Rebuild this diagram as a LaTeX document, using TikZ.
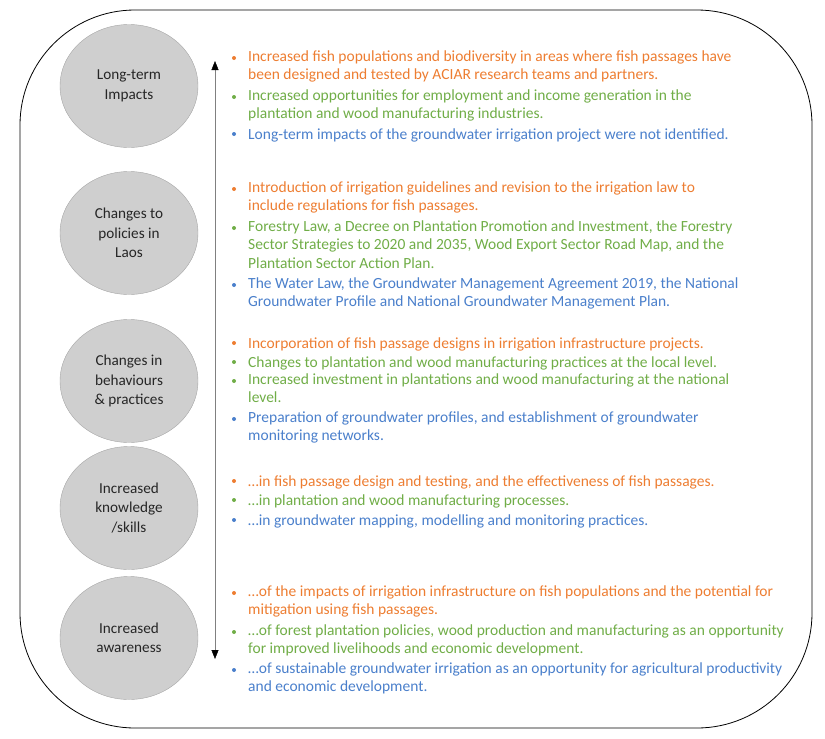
\documentclass[tikz,border=0pt]{standalone}
\usepackage{fontspec}
\setmainfont{Carlito}
\usetikzlibrary{arrows.meta,shapes.geometric}
\definecolor{outorange}{HTML}{ED7D31}
\definecolor{outgreen}{HTML}{70AD47}
\definecolor{outblue}{HTML}{4A7FCB}
\definecolor{stagegray}{HTML}{CFCFCF}
\newcommand{\itemfont}{\fontsize{15.5}{18.5}\selectfont}
\newcommand{\stagefont}{\fontsize{15.2}{19.5}\selectfont}
\newcommand{\bul}[2]{\fill[#1] ([xshift=-14pt,yshift=-7.95pt]#2.north west) circle (2pt);}

\begin{document}
\begin{tikzpicture}[x=1pt, y=-1pt,
  stage/.style={ellipse, draw=black!35, fill=stagegray, minimum width=138pt,
                minimum height=123pt, inner sep=0pt, align=center,
                font=\stagefont, text=black!85},
  outcome/.style={anchor=north west, yshift=10.95pt, align=left, inner sep=0pt,
                  font=\itemfont, execute at begin node=\strut}]
  %% frame
  \useasboundingbox (0,0) rectangle (825,739);
  \draw[thick, rounded corners=115pt] (20,10) rectangle (812,728);

  %% stages
  \node[stage] (impacts)   at (129,86)  {Long-term\\Impacts};
  \node[stage] (policies)  at (129,233) {Changes to\\policies in\\Laos};
  \node[stage] (practices) at (129,381) {Changes in\\behaviours\\\& practices};
  \node[stage] (knowledge) at (129,508) {Increased\\knowledge\\/skills};
  \node[stage] (awareness) at (129,638) {Increased\\awareness};

  %% progression arrow
  \coordinate (arrtop) at (215,61);
  \coordinate (arrbot) at (215,659);
  \draw[gray, {Triangle[length=9pt,width=7pt,black]}-{Triangle[length=9pt,width=7pt,black]}]
    (arrtop) -- (arrbot);

  %% long-term impacts
  \node[outcome, outorange] (imp1) at (248,61)
    {Increased fish populations and biodiversity in areas where fish passages have\\
     been designed and tested by ACIAR research teams and partners.};
  \node[outcome, outgreen] (imp2) at (248,100)
    {Increased opportunities for employment and income generation in the\\
     plantation and wood manufacturing industries.};
  \node[outcome, outblue] (imp3) at (248,137)
    {Long-term impacts of the groundwater irrigation project were not identified.};

  %% policies
  \node[outcome, outorange] (pol1) at (248,192)
    {Introduction of irrigation guidelines and revision to the irrigation law to\\
     include regulations for fish passages.};
  \node[outcome, outgreen] (pol2) at (248,231)
    {Forestry Law, a Decree on Plantation Promotion and Investment, the Forestry\\
     Sector Strategies to 2020 and 2035, Wood Export Sector Road Map, and the\\
     Plantation Sector Action Plan.};
  \node[outcome, outblue] (pol3) at (248,288)
    {The Water Law, the Groundwater Management Agreement 2019, the National\\
     Groundwater Profile and National Groundwater Management Plan.};

  %% behaviours and practices
  \node[outcome, outorange] (pra1) at (248,346)
    {Incorporation of fish passage designs in irrigation infrastructure projects.};
  \node[outcome, outgreen] (pra2) at (248,365)
    {Changes to plantation and wood manufacturing practices at the local level.};
  \node[outcome, outgreen] (pra3) at (248,384)
    {Increased investment in plantations and wood manufacturing at the national\\
     level.};
  \node[outcome, outblue] (pra4) at (248,422)
    {Preparation of groundwater profiles, and establishment of groundwater\\
     monitoring networks.};

  %% knowledge
  \node[outcome, outorange] (kno1) at (248,484)
    {…in fish passage design and testing, and the effectiveness of fish passages.};
  \node[outcome, outgreen] (kno2) at (248,503)
    {…in plantation and wood manufacturing processes.};
  \node[outcome, outblue] (kno3) at (248,523)
    {…in groundwater mapping, modelling and monitoring practices.};

  %% awareness
  \node[outcome, outorange] (awa1) at (248,596)
    {…of the impacts of irrigation infrastructure on fish populations and the potential for\\
     mitigation using fish passages.};
  \node[outcome, outgreen] (awa2) at (248,635)
    {…of forest plantation policies, wood production and manufacturing as an opportunity\\
     for improved livelihoods and economic development.};
  \node[outcome, outblue] (awa3) at (248,673)
    {…of sustainable groundwater irrigation as an opportunity for agricultural productivity\\
     and economic development.};

  %% bullets
  \bul{outorange}{imp1} \bul{outgreen}{imp2} \bul{outblue}{imp3}
  \bul{outorange}{pol1} \bul{outgreen}{pol2} \bul{outblue}{pol3}
  \bul{outorange}{pra1} \bul{outgreen}{pra2} \bul{outgreen}{pra3} \bul{outblue}{pra4}
  \bul{outorange}{kno1} \bul{outgreen}{kno2} \bul{outblue}{kno3}
  \bul{outorange}{awa1} \bul{outgreen}{awa2} \bul{outblue}{awa3}
\end{tikzpicture}
\end{document}
